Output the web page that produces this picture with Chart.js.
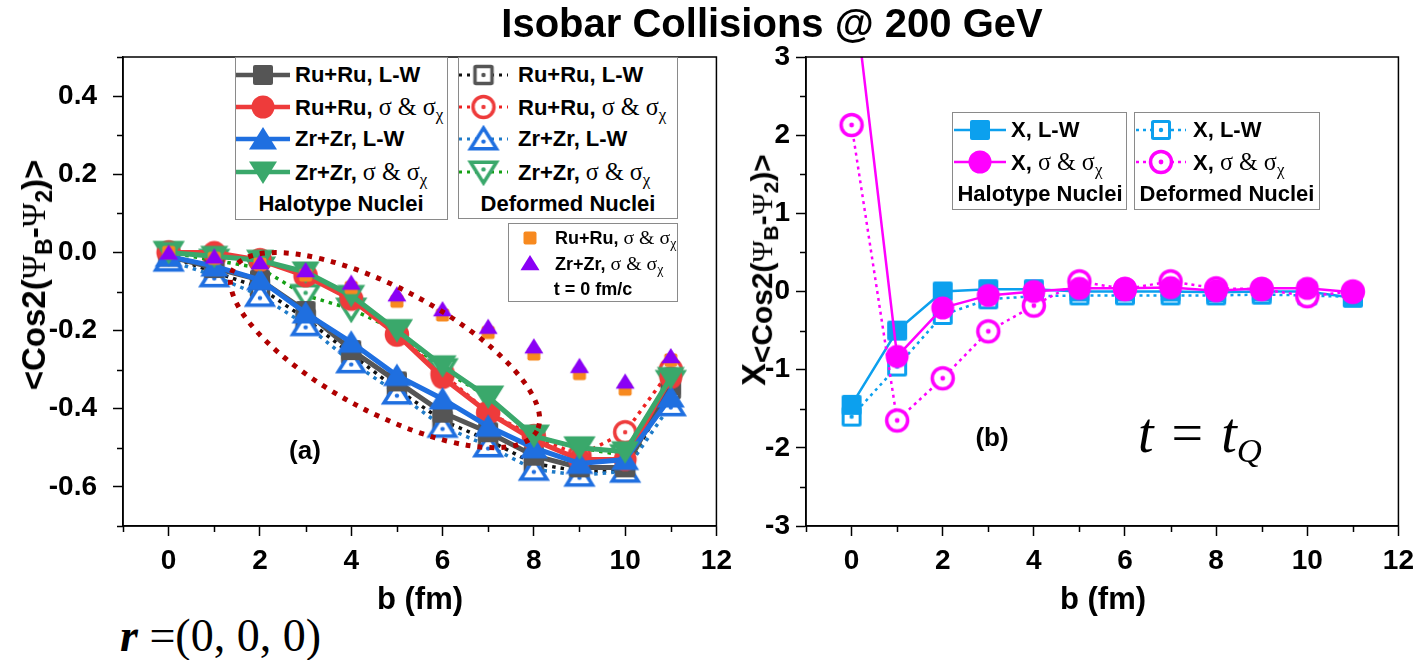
<!DOCTYPE html>
<html>
<head>
<meta charset="utf-8">
<script src="https://cdn.jsdelivr.net/npm/chart.js@4.4.1/dist/chart.umd.min.js"></script>
<style>
  html, body { margin: 0; padding: 0; background: #fff; }
  #page { position: relative; width: 1422px; height: 660px; overflow: hidden; font-family: 'Liberation Sans', Arial, sans-serif; }
  .panel { position: absolute; top: 0; }
  .txt { position: absolute; white-space: nowrap; font-weight: bold; color: #000; line-height: 1; }
  .c { transform: translate(-50%, -50%); }
  .l { transform: translateY(-50%); }
  .box { position: absolute; border: 1.5px solid #8a8a8a; background: #fff; box-sizing: border-box; }
  .sg { font-family: 'Liberation Serif', 'Times New Roman', serif; font-weight: normal; font-size: 1.1em; }
  .psi { font-family: 'Liberation Serif', 'Times New Roman', serif; font-weight: normal; }
  sub { font-size: 0.7em; vertical-align: -0.3em; line-height: 0; }
  .smp { position: absolute; }
</style>
</head>
<body>
<div id="page">
  <div class="panel" style="left:0; width:740px; height:600px;"><canvas id="chartA" width="740" height="600"></canvas></div>
  <div class="panel" style="left:740px; width:682px; height:600px;"><canvas id="chartB" width="682" height="600"></canvas></div>

  <div class="txt c" style="left:772px; top:23px; font-size:40px;">Isobar Collisions @ 200 GeV</div>

  <div class="txt c" style="left:34px; top:275px; font-size:33px; transform:translate(-50%,-50%) rotate(-90deg);">&lt;Cos2(<span class="psi">Ψ</span><sub>B</sub>-<span class="psi">Ψ</span><sub>2</sub>)&gt;</div>
  <div class="txt c" style="left:754px; top:270px; font-size:34px; transform:translate(-50%,-50%) rotate(-90deg);">X<sub style="font-size:0.88em; vertical-align:-0.25em;">&lt;Cos2(<span class="psi">Ψ</span><sub>B</sub>-<span class="psi">Ψ</span><sub>2</sub>)&gt;</sub></div>

  <div class="txt c" style="left:420px; top:598px; font-size:31px;">b (fm)</div>
  <div class="txt c" style="left:1103px; top:598px; font-size:31px;">b (fm)</div>

  <div class="txt c" style="left:305px; top:450px; font-size:26px;">(a)</div>
  <div class="txt c" style="left:992px; top:437px; font-size:26px;">(b)</div>

  <div class="txt l" style="left:1138px; top:433px; font-size:56px; font-family:'Liberation Serif',serif; font-weight:normal; word-spacing:4px;"><i>t</i> = <i>t</i><sub style="font-size:0.62em"><i>Q</i></sub></div>
  <div class="txt l" style="left:120px; top:636px; font-size:46px; font-family:'Liberation Serif',serif; font-weight:normal;"><b><i>r</i></b> =(0, 0, 0)</div>

  <!-- legends panel (a) -->
  <div class="box" style="left:235px; top:57px; width:213px; height:163px;"></div>
  <div class="box" style="left:458px; top:57px; width:220px; height:162px;"></div>
  <div class="box" style="left:508px; top:223px; width:170px; height:79px;"></div>
  <div class="txt l" style="left:295px; top:75px; font-size:22px;">Ru+Ru, L-W</div>
  <div class="txt l" style="left:295px; top:107px; font-size:22px;">Ru+Ru, <span class="sg">σ &amp; σ<sub>χ</sub></span></div>
  <div class="txt l" style="left:295px; top:139px; font-size:22px;">Zr+Zr, L-W</div>
  <div class="txt l" style="left:295px; top:172px; font-size:22px;">Zr+Zr, <span class="sg">σ &amp; σ<sub>χ</sub></span></div>
  <div class="txt c" style="left:341px; top:204px; font-size:22px;">Halotype Nuclei</div>
  <div class="txt l" style="left:518px; top:75px; font-size:22px;">Ru+Ru, L-W</div>
  <div class="txt l" style="left:518px; top:107px; font-size:22px;">Ru+Ru, <span class="sg">σ &amp; σ<sub>χ</sub></span></div>
  <div class="txt l" style="left:518px; top:139px; font-size:22px;">Zr+Zr, L-W</div>
  <div class="txt l" style="left:518px; top:172px; font-size:22px;">Zr+Zr, <span class="sg">σ &amp; σ<sub>χ</sub></span></div>
  <div class="txt c" style="left:568px; top:204px; font-size:22px;">Deformed Nuclei</div>
  <div class="txt l" style="left:555px; top:238px; font-size:18px;">Ru+Ru, <span class="sg">σ &amp; σ<sub>χ</sub></span></div>
  <div class="txt l" style="left:555px; top:264px; font-size:18px;">Zr+Zr, <span class="sg">σ &amp; σ<sub>χ</sub></span></div>
  <div class="txt c" style="left:593px; top:289px; font-size:18px;">t = 0 fm/c</div>

  <!-- legends panel (b) -->
  <div class="box" style="left:952px; top:112px; width:175px; height:98px;"></div>
  <div class="box" style="left:1134px; top:112px; width:186px; height:98px;"></div>
  <div class="txt l" style="left:1011px; top:130px; font-size:22px;">X, L-W</div>
  <div class="txt l" style="left:1011px; top:162px; font-size:22px;">X, <span class="sg">σ &amp; σ<sub>χ</sub></span></div>
  <div class="txt c" style="left:1040px; top:194px; font-size:22px;">Halotype Nuclei</div>
  <div class="txt l" style="left:1193px; top:130px; font-size:22px;">X, L-W</div>
  <div class="txt l" style="left:1193px; top:162px; font-size:22px;">X, <span class="sg">σ &amp; σ<sub>χ</sub></span></div>
  <div class="txt c" style="left:1227px; top:194px; font-size:22px;">Deformed Nuclei</div>
</div>

<script>
// impact parameter b (fm)
const B = [0, 1, 2, 3, 4, 5, 6, 7, 8, 9, 10, 11];

// panel (a): <cos2(PsiB - Psi2)>, halotype nuclei (solid lines)
const ruLW_halo  = [-0.01, -0.04, -0.07, -0.15, -0.25, -0.33, -0.41, -0.46, -0.52, -0.55, -0.55, -0.34];
const ruSig_halo = [0.00, 0.00, -0.02, -0.06, -0.12, -0.21, -0.32, -0.41, -0.48, -0.53, -0.53, -0.32];
const zrLW_halo  = [-0.01, -0.035, -0.07, -0.155, -0.23, -0.315, -0.375, -0.445, -0.50, -0.54, -0.53, -0.37];
const zrSig_halo = [0.00, -0.01, -0.02, -0.05, -0.11, -0.20, -0.29, -0.37, -0.47, -0.50, -0.51, -0.32];
// deformed nuclei (dotted lines)
const ruLW_def   = [-0.01, -0.05, -0.09, -0.17, -0.26, -0.35, -0.43, -0.48, -0.54, -0.56, -0.56, -0.35];
const ruSig_def  = [0.00, -0.01, -0.02, -0.06, -0.12, -0.21, -0.31, -0.41, -0.47, -0.52, -0.46, -0.30];
const zrLW_def   = [-0.02, -0.06, -0.11, -0.185, -0.28, -0.36, -0.445, -0.495, -0.555, -0.57, -0.56, -0.39];
const zrSig_def  = [0.00, -0.02, -0.04, -0.11, -0.145, -0.20, -0.30, -0.37, -0.47, -0.50, -0.52, -0.33];
// t = 0 fm/c
const ru_t0 = [0.00, -0.015, -0.03, -0.058, -0.09, -0.125, -0.16, -0.205, -0.26, -0.31, -0.35, -0.275];
const zr_t0 = [0.00, -0.01, -0.025, -0.045, -0.077, -0.107, -0.145, -0.19, -0.24, -0.29, -0.33, -0.265];

// panel (b): X at t = tQ
const xLW_halo  = [-1.45, -0.50, 0.00, 0.03, 0.03, 0.00, 0.00, 0.00, -0.01, 0.00, 0.00, -0.08];
const xSig_halo = [4.10, -0.83, -0.21, -0.05, 0.00, 0.04, 0.04, 0.05, 0.01, 0.04, 0.04, -0.01];
const xLW_def   = [-1.60, -0.96, -0.30, -0.10, -0.06, -0.05, -0.05, -0.05, -0.05, -0.04, -0.05, -0.07];
const xSig_def  = [2.13, -1.65, -1.11, -0.51, -0.18, 0.13, 0.03, 0.13, 0.04, 0.03, -0.06, 0.00];

// dotted ellipse annotation in panel (a)
const ELLIPSE = { b: 4.74, v: -0.250, rx: 172, ry: 62, tilt: 28 };

const C = {
    gray: '#555555', red: '#ee3b3b', blue: '#1f6fe0', green: '#3aa86b',
    dBlack: '#111111', dRed: '#ee2222', dBlue: '#1f7bc8', dGreen: '#14a014',
    orange: '#f7891f', purple: '#8a00f5',
    sky: '#0ca0ee', magenta: '#ff00ff', ellipse: '#b00000'
};

Chart.defaults.font.family = "'Liberation Sans', Arial, sans-serif";
Chart.defaults.color = '#000';

// marker images used as point styles
function makeMarker(shape, color, filled, size, lw, dot) {
    const S = 40;
    const c = document.createElement('canvas');
    c.width = S; c.height = S;
    const g = c.getContext('2d');
    g.translate(S / 2, S / 2);
    g.fillStyle = color;
    g.strokeStyle = color;
    g.lineWidth = lw || 3.5;
    g.lineJoin = 'miter';
    const h = size / 2;
    g.beginPath();
    if (shape === 'rect') {
        if (g.roundRect) g.roundRect(-h, -h, size, size, filled ? 2 : 1); else g.rect(-h, -h, size, size);
    } else if (shape === 'circle') {
        g.arc(0, 0, h, 0, Math.PI * 2);
    } else if (shape === 'tri') {
        g.moveTo(0, -h * 0.85); g.lineTo(h, h * 0.75); g.lineTo(-h, h * 0.75); g.closePath();
    } else if (shape === 'triDown') {
        g.moveTo(0, h * 0.85); g.lineTo(h, -h * 0.75); g.lineTo(-h, -h * 0.75); g.closePath();
    }
    if (filled) {
        g.fill();
    } else {
        g.fillStyle = '#fff';
        g.fill();
        g.stroke();
        if (dot) {
            g.fillStyle = color;
            g.beginPath();
            const dy = shape === 'tri' ? h * 0.2 : (shape === 'triDown' ? -h * 0.2 : 0);
            g.arc(0, dy, dot, 0, Math.PI * 2);
            g.fill();
        }
    }
    return c;
}

const M = {
    grayF: makeMarker('rect', C.gray, true, 20),
    redF: makeMarker('circle', C.red, true, 23),
    blueF: makeMarker('tri', C.blue, true, 28),
    greenF: makeMarker('triDown', C.green, true, 28),
    grayO: makeMarker('rect', C.gray, false, 17, 3.5, 2.2),
    redO: makeMarker('circle', C.red, false, 21, 3.5, 2.2),
    blueO: makeMarker('tri', C.blue, false, 26, 3.5, 2.2),
    greenO: makeMarker('triDown', C.green, false, 26, 3.5, 2.2),
    orange: makeMarker('rect', C.orange, true, 13),
    purple: makeMarker('tri', C.purple, true, 19),
    skyF: makeMarker('rect', C.sky, true, 20),
    magF: makeMarker('circle', C.magenta, true, 23),
    skyO: makeMarker('rect', C.sky, false, 17, 3, 2.2),
    magO: makeMarker('circle', C.magenta, false, 21, 3.5, 2.4)
};

function series(values, marker, color, width, dash) {
    return {
        data: B.map((b, i) => ({ x: b, y: values[i] })),
        borderColor: color,
        backgroundColor: color,
        borderWidth: width,
        borderDash: dash || [],
        showLine: width > 0,
        pointStyle: marker,
        pointRadius: 11,
        tension: 0,
        fill: false
    };
}

const frame = {
    id: 'frame',
    afterDraw(chart) {
        const { ctx, chartArea: a } = chart;
        ctx.save();
        ctx.strokeStyle = '#000';
        ctx.lineWidth = 1.5;
        ctx.strokeRect(a.left, a.top, a.right - a.left, a.bottom - a.top);
        // short minor ticks (unlabelled ticks are hidden in the scale itself)
        ctx.beginPath();
        const sx = chart.scales.x, sy = chart.scales.y;
        sx.ticks.forEach((t, i) => {
            if (t.label === '') {
                const px = Math.round(sx.getPixelForTick(i)) + 0.5;
                ctx.moveTo(px, a.bottom); ctx.lineTo(px, a.bottom + 6);
            }
        });
        sy.ticks.forEach((t, i) => {
            if (t.label === '') {
                const py = Math.round(sy.getPixelForTick(i)) + 0.5;
                ctx.moveTo(a.left, py); ctx.lineTo(a.left - 6, py);
            }
        });
        ctx.stroke();
        ctx.restore();
    }
};

const ellipse = {
    id: 'ellipse',
    afterDatasetsDraw(chart) {
        const { ctx, scales: { x, y } } = chart;
        ctx.save();
        ctx.strokeStyle = C.ellipse;
        ctx.lineWidth = 5;
        ctx.setLineDash([5, 7]);
        ctx.beginPath();
        ctx.ellipse(x.getPixelForValue(ELLIPSE.b), y.getPixelForValue(ELLIPSE.v),
            ELLIPSE.rx, ELLIPSE.ry, ELLIPSE.tilt * Math.PI / 180, 0, Math.PI * 2);
        ctx.stroke();
        ctx.restore();
    }
};

function axes(yMin, yMax, yStep, yLabel, yWidth, yPad) {
    const tickFont = { size: 28, weight: 'bold' };
    const grid = {
        drawOnChartArea: false, drawTicks: true, tickLength: 10, tickWidth: 1.5,
        tickColor: ctx => (ctx.tick && ctx.tick.label === '') ? 'rgba(0,0,0,0)' : '#000'
    };
    const border = { display: true, color: '#000', width: 1.5 };
    return {
        x: {
            type: 'linear', min: -1, max: 12,
            grid: grid, border: border,
            ticks: {
                stepSize: 1, autoSkip: false, maxRotation: 0, padding: 8, font: tickFont,
                callback: v => (v >= 0 && v % 2 === 0) ? String(v) : ''
            },
            afterFit: s => { s.height = 74; }
        },
        y: {
            type: 'linear', min: yMin, max: yMax,
            grid: grid, border: border,
            ticks: { stepSize: yStep, autoSkip: false, padding: yPad, font: tickFont, callback: yLabel },
            afterFit: s => { s.width = yWidth; }
        }
    };
}

const common = {
    responsive: false,
    animation: false,
    plugins: { legend: { display: false }, tooltip: { enabled: false } }
};

// panel (a)
const dotA = [3.5, 5];
new Chart(document.getElementById('chartA'), {
    type: 'line',
    data: {
        datasets: [
            series(zr_t0, M.purple, C.purple, 0),
            series(ru_t0, M.orange, C.orange, 0),
            series(zrSig_halo, M.greenF, C.green, 5),
            series(zrLW_halo, M.blueF, C.blue, 5),
            series(ruSig_halo, M.redF, C.red, 5),
            series(ruLW_halo, M.grayF, C.gray, 5),
            series(zrSig_def, M.greenO, C.dGreen, 3.5, dotA),
            series(zrLW_def, M.blueO, C.dBlue, 3.5, dotA),
            series(ruSig_def, M.redO, C.dRed, 3.5, dotA),
            series(ruLW_def, M.grayO, C.dBlack, 3.5, dotA)
        ]
    },
    options: Object.assign({}, common, {
        layout: { padding: { top: 57, right: 22, left: 0, bottom: 0 } },
        scales: axes(-0.7, 0.5, 0.1, v => {
            const k = Math.round(v * 10);
            return Math.abs(k) % 2 === 0 ? (k / 10).toFixed(1) : '';
        }, 123, 16)
    }),
    plugins: [ellipse, frame]
});

// panel (b)
const dotB = [3, 4];
new Chart(document.getElementById('chartB'), {
    type: 'line',
    data: {
        datasets: [
            series(xSig_halo, M.magF, C.magenta, 2.5),
            series(xSig_def, M.magO, C.magenta, 2.5, dotB),
            series(xLW_halo, M.skyF, C.sky, 2.5),
            series(xLW_def, M.skyO, C.sky, 2.5, dotB)
        ]
    },
    options: Object.assign({}, common, {
        layout: { padding: { top: 57, right: 21, left: 0, bottom: 0 } },
        scales: axes(-3, 3, 0.5, v => Number.isInteger(v) ? String(v) : '', 66, 6)
    }),
    plugins: [frame]
});

// legend samples (line + marker)
function sample(x0, x1, yc, marker, color, width, dash) {
    const c = document.createElement('canvas');
    c.className = 'smp';
    c.width = x1 - x0; c.height = 40;
    c.style.left = x0 + 'px'; c.style.top = (yc - 20) + 'px';
    const g = c.getContext('2d');
    if (width > 0) {
        g.strokeStyle = color; g.lineWidth = width; g.setLineDash(dash || []);
        g.beginPath(); g.moveTo(0, 20); g.lineTo(c.width, 20); g.stroke();
    }
    g.drawImage(marker, c.width / 2 - 20, 0);
    document.getElementById('page').appendChild(c);
}

sample(236, 290, 75, M.grayF, C.gray, 4.5);
sample(236, 290, 107, M.redF, C.red, 4.5);
sample(236, 290, 139, M.blueF, C.blue, 4.5);
sample(236, 290, 172, M.greenF, C.green, 4.5);
sample(459, 508, 75, M.grayO, C.dBlack, 3, [3, 5]);
sample(459, 508, 107, M.redO, C.dRed, 3, [3, 5]);
sample(459, 508, 139, M.blueO, C.dBlue, 3, [3, 5]);
sample(459, 508, 172, M.greenO, C.dGreen, 3, [3, 5]);
sample(515, 545, 238, M.orange, C.orange, 0);
sample(515, 545, 263, M.purple, C.purple, 0);
sample(954, 1006, 130, M.skyF, C.sky, 2.5);
sample(954, 1006, 162, M.magF, C.magenta, 2.5);
sample(1136, 1186, 130, M.skyO, C.sky, 2.5, [3, 4]);
sample(1136, 1186, 162, M.magO, C.magenta, 2.5, [3, 4]);
</script>
</body>
</html>
